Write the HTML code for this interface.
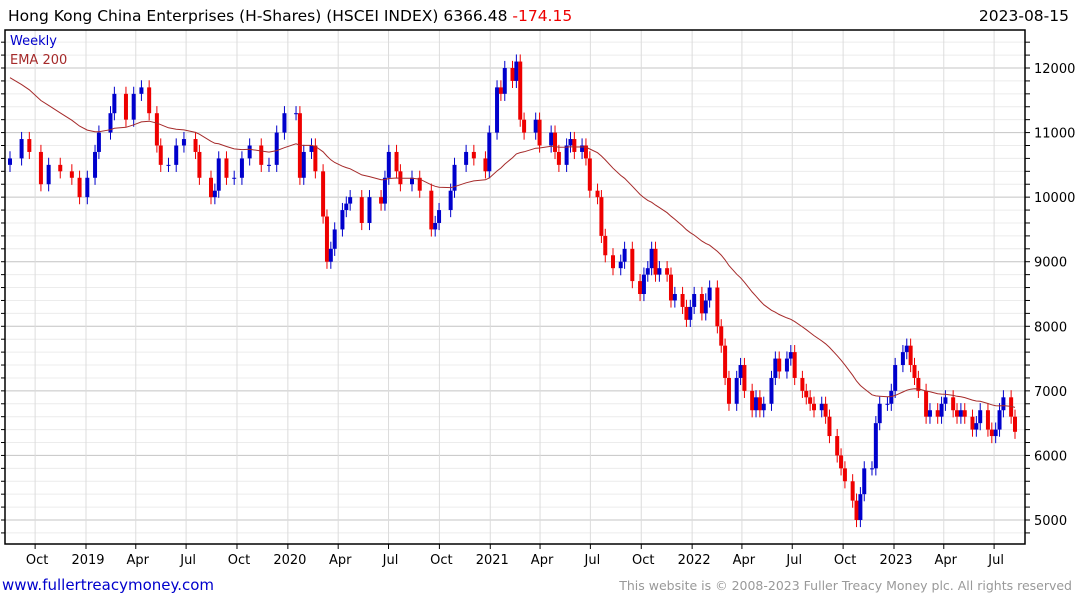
<!DOCTYPE html>
<html><head><meta charset="utf-8"><style>
body{margin:0;background:#fff;font-family:"Liberation Sans","DejaVu Sans",sans-serif}
</style></head><body>
<svg id="chart" width="1075" height="600" xmlns="http://www.w3.org/2000/svg" style="display:block;font-family:'DejaVu Sans','Liberation Sans',sans-serif">
<g id="grid"></g>
<g id="candles"></g>
<path id="ema" fill="none" stroke="#a52a2a" stroke-width="1"/>
<rect x="5" y="30" width="1020" height="514" fill="none" stroke="#000" stroke-width="1.5"/>
<g id="axes"></g>
<text x="8" y="21" font-size="15.5" fill="#000">Hong Kong China Enterprises (H-Shares) (HSCEI INDEX) 6366.48 <tspan fill="#e00">-174.15</tspan></text>
<text x="1069" y="21" font-size="15.5" text-anchor="end" fill="#000">2023-08-15</text>
<text x="10" y="45" font-size="13" fill="#0000cc">Weekly</text>
<text x="10" y="64" font-size="13" fill="#a52a2a">EMA 200</text>
<text x="2" y="590" font-size="15" fill="#0000cc">www.fullertreacymoney.com</text>
<text x="1072" y="590" font-size="12.5" text-anchor="end" fill="#999">This website is © 2008-2023 Fuller Treacy Money plc. All rights reserved</text>
</svg>
<script>
const weeks=[0,3,5,8,10,13,16,18,20,22,23,26,27,30,32,34,36,38,39,41,43,45,48,49,52,53,54,56,58,60,62,65,67,69,71,74,75,76,78,79,81,82,83,84,86,87,88,91,93,96,97,98,100,101,104,106,109,110,111,114,115,118,120,123,124,126,127,128,130,131,132,133,136,137,140,141,142,144,145,146,148,149,150,152,153,154,156,158,159,161,163,164,165,166,167,168,170,171,172,174,175,176,177,179,180,181,183,184,185,186,188,189,190,192,193,194,195,197,198,199,201,202,203,205,206,207,208,210,211,212,214,215,216,218,219,220,221,223,224,225,227,228,229,231,232,233,234,235,237,238,240,241,242,244,245,246,247,249,250,251,253,254,255,256,257,259,260];
const closes=[10600,10900,10700,10200,10500,10400,10300,10000,10300,10700,11000,11300,11600,11200,11600,11700,11300,10800,10500,10500,10800,10900,10700,10300,10000,10100,10600,10300,10300,10600,10800,10500,10500,11000,11300,11300,10300,10700,10800,10400,9700,9000,9200,9500,9800,9900,10000,9600,10000,9900,10300,10700,10400,10200,10300,10100,9500,9600,9800,10100,10500,10700,10600,10400,11000,11700,11600,12000,11800,12100,11200,11000,11200,10800,11000,10700,10500,10800,10900,10700,10800,10600,10100,10000,9400,9100,8900,9000,9200,8700,8500,8800,8900,9200,8800,8900,8800,8400,8500,8300,8100,8300,8500,8200,8400,8600,8000,7700,7200,6800,7200,7400,7000,6700,6900,6700,6800,7200,7500,7300,7500,7600,7200,7000,6900,6800,6700,6800,6600,6300,6000,5800,5600,5300,5000,5400,5800,5800,6500,6800,6800,7000,7400,7600,7700,7400,7200,7000,6600,6700,6600,6800,6900,6700,6600,6700,6600,6400,6500,6700,6400,6300,6400,6700,6900,6600,6366];
const firstOpen=10500;
const emaSeed=11850;
const yTicks=[5000,6000,7000,8000,9000,10000,11000,12000];
const xLabels=["Oct","2019","Apr","Jul","Oct","2020","Apr","Jul","Oct","2021","Apr","Jul","Oct","2022","Apr","Jul","Oct","2023","Apr","Jul"];
const xLabelDates=["2018-10-01","2019-01-01","2019-04-01","2019-07-01","2019-10-01","2020-01-01","2020-04-01","2020-07-01","2020-10-01","2021-01-01","2021-04-01","2021-07-01","2021-10-01","2022-01-01","2022-04-01","2022-07-01","2022-10-01","2023-01-01","2023-04-01","2023-07-01"];
const NS="http://www.w3.org/2000/svg";
const yS=v=>520-(v-5000)*0.06457;
const xD=d=>86+(Date.parse(d)-Date.parse("2019-01-01"))/86400000*202/365.25;
const xW=w=>10+w*(1015-10)/260;
function mk(tag,attrs,parent){const e=document.createElementNS(NS,tag);for(const k in attrs)e.setAttribute(k,attrs[k]);parent.appendChild(e);return e;}
const grid=document.getElementById('grid'),axes=document.getElementById('axes'),cg=document.getElementById('candles');
for(let v=4800;v<=12600;v+=200){const y=yS(v);if(y<30||y>544)continue;const major=v%1000===0;
 const l=mk('line',{x1:5,x2:1025,y1:y,y2:y,stroke:major?'#c4c4c4':'#ececec','stroke-width':1},grid);
 
 const t=mk('line',{x1:1025,x2:1030,y1:y,y2:y,stroke:'#000'},axes);
 
 const t2=mk('line',{x1:5,x2:1,y1:y,y2:y,stroke:'#000'},axes);
 }
yTicks.forEach(v=>{const t=mk('text',{x:1034,y:yS(v)+5,'font-size':13,fill:'#000'},axes);t.textContent=v;
 });
xLabelDates.forEach((d,i)=>{const x=xD(d);
 const l=mk('line',{x1:x,x2:x,y1:30,y2:544,stroke:'#dcdcdc'},grid);
 
 const tk=mk('line',{x1:x,x2:x,y1:544,y2:549,stroke:'#000'},axes);
 
 const t=mk('text',{x:x+2,y:564,'font-size':13,'text-anchor':'middle',fill:'#000'},axes);t.textContent=xLabels[i];
 });
let prev=firstOpen,ema=emaSeed,pts=[],pw=0;
const n=Math.min(weeks.length,closes.length);
for(let i=0;i<n;i++){const c=closes[i],o=prev,x=xW(weeks[i]),up=c>=o,col=up?'#0000cc':'#ee0000';
 const hi=Math.max(o,c)+110,lo=Math.min(o,c)-110;
 const w=mk('line',{x1:x,x2:x,y1:yS(hi),y2:yS(lo),stroke:col,'stroke-width':1},cg);
 
 const y1=yS(Math.max(o,c)),y2=yS(Math.min(o,c));
 const b=mk('rect',{x:x-2,y:y1,width:4,height:Math.max(1,y2-y1),fill:col},cg);
 
 const dw=Math.max(1,weeks[i]-pw);const a=1-Math.pow(1-2/51,dw);
 if(i>0)ema=ema+(c-ema)*a;pts.push(x.toFixed(1)+','+yS(ema).toFixed(1));prev=c;pw=weeks[i];}
document.getElementById('ema').setAttribute('d','M'+pts.join('L'));
</script>
</body></html>
